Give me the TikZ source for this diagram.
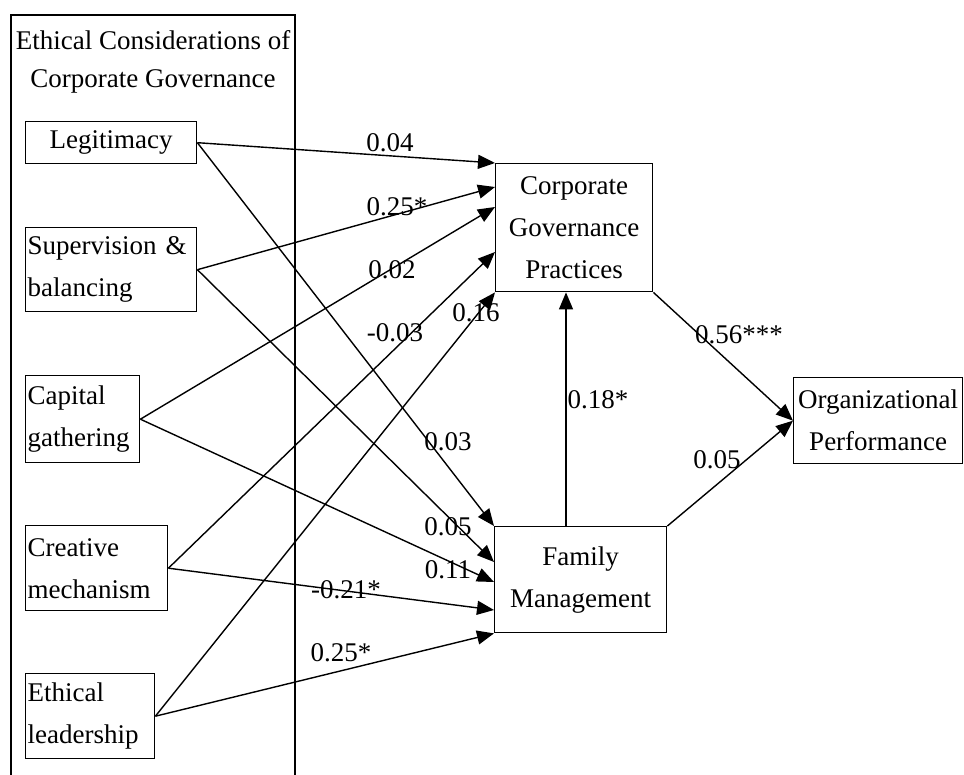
\documentclass[tikz,border=0pt]{standalone}
\usepackage{fontspec}
\setmainfont{Liberation Serif}
\usetikzlibrary{arrows.meta,calc}
\begin{document}
\begin{tikzpicture}[x=1pt,y=-1pt,
  every node/.style={font=\fontsize{27}{42}\selectfont},
  box/.style={draw,line width=1.4pt,inner sep=0pt,anchor=north west},
  lbox/.style={box,inner xsep=2pt,align=left},
  lbl/.style={inner sep=0pt},
  arr/.style={line width=1.4pt,-{Triangle[length=17pt,width=14pt]}},
  ln/.style={line width=1.4pt}]
\useasboundingbox (0,0) rectangle (964,775);
% outer frame
\draw[ln] (11,775) -- (11,15) -- (295,15) -- (295,775);
\node (t1) at (153,40) {Ethical Considerations of};
\node (t2) at (153,81) {Corporate Governance};
% left boxes
\node[box,minimum width=171pt,minimum height=42pt] (leg) at (25,121) {Legitimacy};
\node[lbox,text width=167pt,minimum height=84pt] (sup) at (25,227) {Supervision \&\\balancing};
\node[lbox,text width=110pt,minimum height=87pt] (cap) at (25,375) {Capital\\gathering};
\node[lbox,text width=138pt,minimum height=85pt] (cre) at (25,525) {Creative\\mechanism};
\node[lbox,text width=125pt,minimum height=85pt] (eth) at (25,673) {Ethical\\leadership};
% right boxes
\node[box,minimum width=157pt,minimum height=128pt,align=center] (cgp) at (495,163) {Corporate\\Governance\\Practices};
\node[box,minimum width=172pt,minimum height=106pt,align=center] (fm) at (494,526) {Family\\Management};
\node[box,minimum width=169pt,minimum height=86pt,align=center] (op) at (793,377) {Organizational\\Performance};
% arrows into CGP
\draw[arr] (leg.east) -- (cgp.north west);
\draw[arr] (sup.east) -- ($(cgp.north west)+(0,24)$);
\draw[arr] (cap.east) -- ($(cgp.north west)+(0,44)$);
\draw[arr] (cre.east) -- ($(cgp.north west)+(0,89)$);
\draw[arr] (eth.east) -- (cgp.south west);
% arrows into FM
\draw[arr] (leg.east) -- (fm.north west);
\draw[arr] (sup.east) -- ($(fm.north west)+(0,36)$);
\draw[arr] (cap.east) -- ($(fm.north west)+(0,56)$);
\draw[arr] (cre.east) -- ($(fm.north west)+(0,84)$);
\draw[arr] (eth.east) -- (fm.south west);
% FM -> CGP, to OP
\draw[arr] ($(fm.north west)+(72,0)$) -- ($(cgp.south west)+(71,0)$);
\draw[arr] (cgp.south east) -- (op.west);
\draw[arr] (fm.north east) -- (op.west);
% labels
\node[lbl] (l1) at (390,143) {0.04};
\node[lbl] (l2) at (397,207) {0.25*};
\node[lbl] (l3) at (392,270) {0.02};
\node[lbl] (l4) at (395,333) {-0.03};
\node[lbl] (l5) at (476,313) {0.16};
\node[lbl] (l6) at (448,442) {0.03};
\node[lbl] (l7) at (448,527) {0.05};
\node[lbl] (l8) at (448,570) {0.11};
\node[lbl] (l9) at (346,590) {-0.21*};
\node[lbl] (l10) at (341,653) {0.25*};
\node[lbl] (l11) at (598,400) {0.18*};
\node[lbl] (l12) at (739,335) {0.56***};
\node[lbl] (l13) at (717,460) {0.05};
\end{tikzpicture}
\end{document}
